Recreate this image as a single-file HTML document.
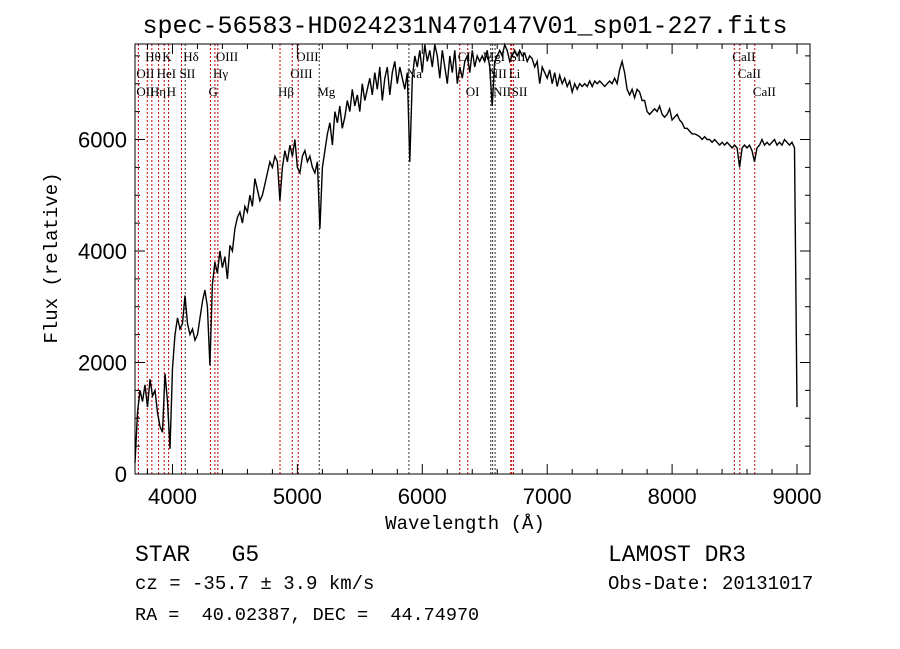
<!DOCTYPE html>
<html><head><meta charset="utf-8"><style>
body{margin:0;background:#fff;}
svg{display:block;}
text{white-space:pre;}
.t{font-family:"Liberation Serif",serif;font-size:13px;fill:#000;}
.ax{font-family:"Liberation Sans",sans-serif;font-size:22px;fill:#000;}
.mono{font-family:"Liberation Mono",monospace;fill:#000;}
</style></head><body>
<svg id="chart" width="900" height="649" viewBox="0 0 900 649" xmlns="http://www.w3.org/2000/svg" xml:space="preserve">
<rect width="900" height="649" fill="#fff"/>
<text x="465" y="33" text-anchor="middle" class="mono" style="font-size:25px">spec-56583-HD024231N470147V01_sp01-227.fits</text>
<g id="plot"></g>
<text x="465" y="529" text-anchor="middle" class="mono" style="font-size:19px">Wavelength (Å)</text>
<text transform="translate(57,258) rotate(-90)" text-anchor="middle" class="mono" style="font-size:19px">Flux (relative)</text>
<text x="135" y="561" class="mono" style="font-size:23px">STAR   G5</text>
<text x="135" y="589" class="mono" style="font-size:19px">cz = -35.7 ± 3.9 km/s</text>
<text x="135" y="620" class="mono" style="font-size:18.5px">RA =  40.02387, DEC =  44.74970</text>
<text x="608" y="561" class="mono" style="font-size:23px">LAMOST DR3</text>
<text x="608" y="589" class="mono" style="font-size:19px">Obs-Date: 20131017</text>
</svg>
<script>
const waveStart = 3700;
const waveStep = 20;
const flux = [200,1100,1500,1300,1600,1200,1700,1400,1500,1100,
850,750,1800,1300,450,1900,2500,2800,2600,2700,3200,2700,2500,2600,2400,2500,2800,3100,3300,3000,
1950,3400,3800,3600,4000,3700,3900,3500,4100,4000,4400,4600,4700,4500,4800,4700,5000,4800,5300,5100,
4900,5000,5200,5400,5600,5500,5700,5600,4900,5500,5800,5600,5900,5700,6000,5500,5400,5700,5800,5600,
5700,5500,5400,5600,4400,5500,5800,6100,6300,5900,6500,6300,6600,6200,6400,6700,6500,6900,6600,6800,
6500,7000,6700,6900,7100,6800,7200,6900,7300,6700,7100,7300,6800,7200,7400,7000,7300,7100,6900,7200,
5600,7100,7500,7300,7600,7200,7700,7400,7600,7300,7700,7500,7100,7600,7300,7000,7500,7200,7600,7000,
7300,7100,7400,7500,7200,7600,7300,7500,7400,7500,7400,7600,7300,6600,7400,7500,7600,7500,7700,7600,
7400,7500,7600,7500,7600,7500,7550,7400,7500,7450,7300,7400,7000,7300,7200,7100,7250,7000,7200,6950,
7150,7000,7100,6950,7050,6850,7000,6900,7000,6950,7000,6950,7050,6950,7050,7000,7050,7000,6950,7000,
7050,7000,7100,7000,7250,7400,7200,6900,6800,6900,6750,6900,6850,6700,6700,6500,6450,6500,6550,6500,
6600,6450,6400,6450,6550,6350,6400,6450,6350,6300,6200,6200,6150,6100,6100,6080,6050,6000,6050,6000,
6000,5950,6000,5950,5900,5950,5900,5950,5900,5850,5900,5850,5500,5850,5900,5850,5900,5800,5600,5850,
5900,6000,5900,5950,5900,5950,6000,5900,5950,5900,6000,5950,5900,5950,5850,1200];
const lineWaves = [3727,3798,3835,3889,3934,3969,4072,4102,4304,4340,4363,4861,4959,5007,5175,5893,6300,6364,6548,6563,6583,6708,6716,6731,8498,8542,8662];
const lineBlack = [0,0,0,0,0,0,0,1,0,0,0,0,0,0,1,1,0,0,1,1,1,0,0,0,0,0,0];
const labelText = ["Hθ","K","Hδ","OIII","OIII","CI","MgI","SII","CaII","OII","HeI","SII","Hγ","OIII","Na","NII","Li","CaII","OII","Hη","H","G","Hβ","Mg","OI","NII","SII","CaII"];
const labelWave = [3798,3934,4102,4363,5007,6300,6500,6716,8498,3727,3889,4072,4340,4959,5893,6548,6708,8542,3727,3835,3969,4304,4861,5175,6364,6583,6731,8662];
const labelRow = [0,0,0,0,0,0,0,0,0,1,1,1,1,1,1,1,1,1,2,2,2,2,2,2,2,2,2,2];
const xTicks = [4000,5000,6000,7000,8000,9000];
const yTicks = [0,2000,4000,6000];

const L=135,R=810,T=44,B=474, X0=3700,X1=9104, Y0=0,Y1=7713;
const sx=w=>L+(w-X0)/(X1-X0)*(R-L);
const sy=f=>B-(f-Y0)/(Y1-Y0)*(B-T);
const NS="http://www.w3.org/2000/svg";
const g=document.getElementById('plot');
function mk(tag,attrs){const e=document.createElementNS(NS,tag);for(const k in attrs)e.setAttribute(k,attrs[k]);g.appendChild(e);return e;}

lineWaves.forEach((w,i)=>{
  const e=mk('line',{x1:sx(w),x2:sx(w),y1:T,y2:B,stroke:lineBlack[i]?'#333':'#c00','stroke-width':1,'stroke-dasharray':'2,2'});
  
  
});
const rowY=[61,78,96];
labelText.forEach((s,i)=>{
  const e=mk('text',{x:sx(labelWave[i])-2,y:rowY[labelRow[i]],class:'t'});
  e.textContent=s;
  
  
});

let d='';
flux.forEach((f,i)=>{const w=waveStart+i*waveStep;d+=(i?'L':'M')+sx(w).toFixed(1)+','+Math.max(T,sy(f)).toFixed(1);});
const p=mk('path',{d:d,fill:'none',stroke:'#000','stroke-width':1.4,'stroke-linejoin':'miter'});



const box=mk('rect',{x:L,y:T,width:R-L,height:B-T,fill:'none',stroke:'#000','stroke-width':1});



for(let w=3800;w<=9100;w+=200){
  const major=w%1000===0, len=major?10:5;
  mk('line',{x1:sx(w),x2:sx(w),y1:B,y2:B-len,stroke:'#000'});
  mk('line',{x1:sx(w),x2:sx(w),y1:T,y2:T+len,stroke:'#000'});
}
for(let f=0;f<=7500;f+=500){
  const major=f%2000===0, len=major?10:5;
  mk('line',{x1:L,x2:L+len,y1:sy(f),y2:sy(f),stroke:'#000'});
  mk('line',{x1:R,x2:R-len,y1:sy(f),y2:sy(f),stroke:'#000'});
}
xTicks.forEach(v=>{
  const e=mk('text',{x:sx(v),y:504,'text-anchor':'middle',class:'ax'});
  e.textContent=v;
  
  
});
yTicks.forEach(v=>{
  const e=mk('text',{x:127,y:sy(v)+8,'text-anchor':'end',class:'ax'});
  e.textContent=v;
  
  
});
</script>
</body></html>
